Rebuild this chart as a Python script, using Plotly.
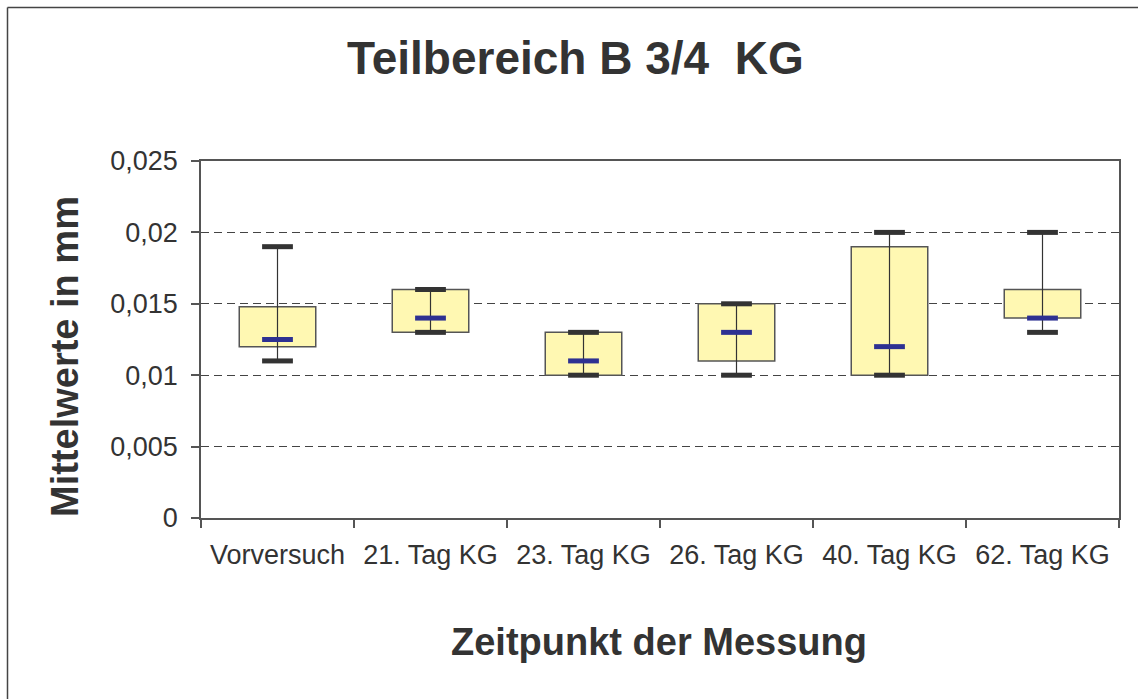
import plotly.graph_objects as go

# ---- data ----
categories = ["Vorversuch", "21. Tag KG", "23. Tag KG", "26. Tag KG", "40. Tag KG", "62. Tag KG"]
minimum = [0.011, 0.013, 0.010, 0.010, 0.010, 0.013]
q1 = [0.012, 0.013, 0.010, 0.011, 0.010, 0.014]
median = [0.0125, 0.014, 0.011, 0.013, 0.012, 0.014]
q3 = [0.0148, 0.016, 0.013, 0.015, 0.019, 0.016]
maximum = [0.019, 0.016, 0.013, 0.015, 0.020, 0.020]
y_ticks = [0, 0.005, 0.01, 0.015, 0.02, 0.025]

title_text = "Teilbereich B 3/4\u00a0 KG"
x_title = "Zeitpunkt der Messung"
y_title = "Mittelwerte in mm"

# ---- styling ----
W, H = 1138, 699
L, R, T, B = 201, 1119, 161, 518
FONT = "Liberation Sans, Arial, sans-serif"
TXT = "#333333"

fig = go.Figure()

# boxes (q1 -> q3)
fig.add_trace(go.Bar(
    x=categories,
    y=[b - a for a, b in zip(q1, q3)],
    base=q1,
    width=0.5,
    marker=dict(color="#FFF8B2", line=dict(color="#555555", width=1.5)),
    hoverinfo="skip",
))

# whiskers
wx, wy = [], []
for c, lo, hi in zip(categories, minimum, maximum):
    wx += [c, c, None]
    wy += [lo, hi, None]
fig.add_trace(go.Scatter(
    x=wx, y=wy, mode="lines",
    line=dict(color="#333333", width=1.2),
    hoverinfo="skip", connectgaps=False,
))

# caps
for arr in (minimum, maximum):
    fig.add_trace(go.Scatter(
        x=categories, y=arr, mode="markers",
        marker=dict(symbol="line-ew", size=22, line=dict(color="#333333", width=5)),
        hoverinfo="skip",
    ))

# medians
fig.add_trace(go.Scatter(
    x=categories, y=median, mode="markers",
    marker=dict(symbol="line-ew", size=22, line=dict(color="#2E3192", width=5)),
    hoverinfo="skip",
))

pw, ph = R - L, B - T


def px(x):
    return (x - L) / pw


def py(y):
    return (B - y) / ph


frame = dict(color="#444444", width=1.5)

fig.update_layout(
    width=W, height=H,
    margin=dict(l=L, r=W - R, t=T, b=H - B, pad=0),
    paper_bgcolor="white", plot_bgcolor="white",
    showlegend=False,
    separators=",.",
    font=dict(family=FONT, color=TXT),
    annotations=[
        dict(text="<b>" + title_text + "</b>", xref="paper", yref="paper",
             x=px(575), y=py(58), xanchor="center", yanchor="middle",
             showarrow=False, font=dict(size=46, color=TXT, family=FONT)),
        dict(text="<b>" + x_title + "</b>", xref="paper", yref="paper",
             x=px(659), y=py(642), xanchor="center", yanchor="middle",
             showarrow=False, font=dict(size=38, color=TXT, family=FONT)),
        dict(text="<b>" + y_title + "</b>", xref="paper", yref="paper",
             x=px(65), y=py(357), xanchor="center", yanchor="middle",
             textangle=-90,
             showarrow=False, font=dict(size=38, color=TXT, family=FONT)),
    ],
    shapes=[
        dict(type="line", xref="paper", yref="paper",
             x0=px(7.5), x1=px(7.5), y0=py(7.5), y1=py(H + 5), line=frame, layer="below"),
        dict(type="line", xref="paper", yref="paper",
             x0=px(7.5), x1=px(W + 5), y0=py(7.5), y1=py(7.5), line=frame, layer="below"),
    ],
)

fig.update_xaxes(
    type="category",
    showline=True, linecolor="#555555", linewidth=1.5, mirror=True,
    ticks="outside", ticklen=8, tickcolor="#555555", tickwidth=1.5,
    tickson="boundaries",
    showgrid=False,
    tickfont=dict(size=27, color=TXT, family=FONT),
    ticklabelstandoff=12,
)
fig.update_yaxes(
    range=[0, 0.025],
    tickvals=y_ticks,
    showline=True, linecolor="#555555", linewidth=1.5, mirror=True,
    ticks="outside", ticklen=8, tickcolor="#555555", tickwidth=1.5,
    showgrid=True, gridcolor="#444444", gridwidth=1, griddash="8px,5px",
    zeroline=False,
    tickfont=dict(size=27, color=TXT, family=FONT),
    ticklabelstandoff=8,
)

fig.write_html(
    "out.html",
    config={"displayModeBar": False},
    post_script="document.body.style.margin='0';document.body.style.overflow='hidden';",
)
